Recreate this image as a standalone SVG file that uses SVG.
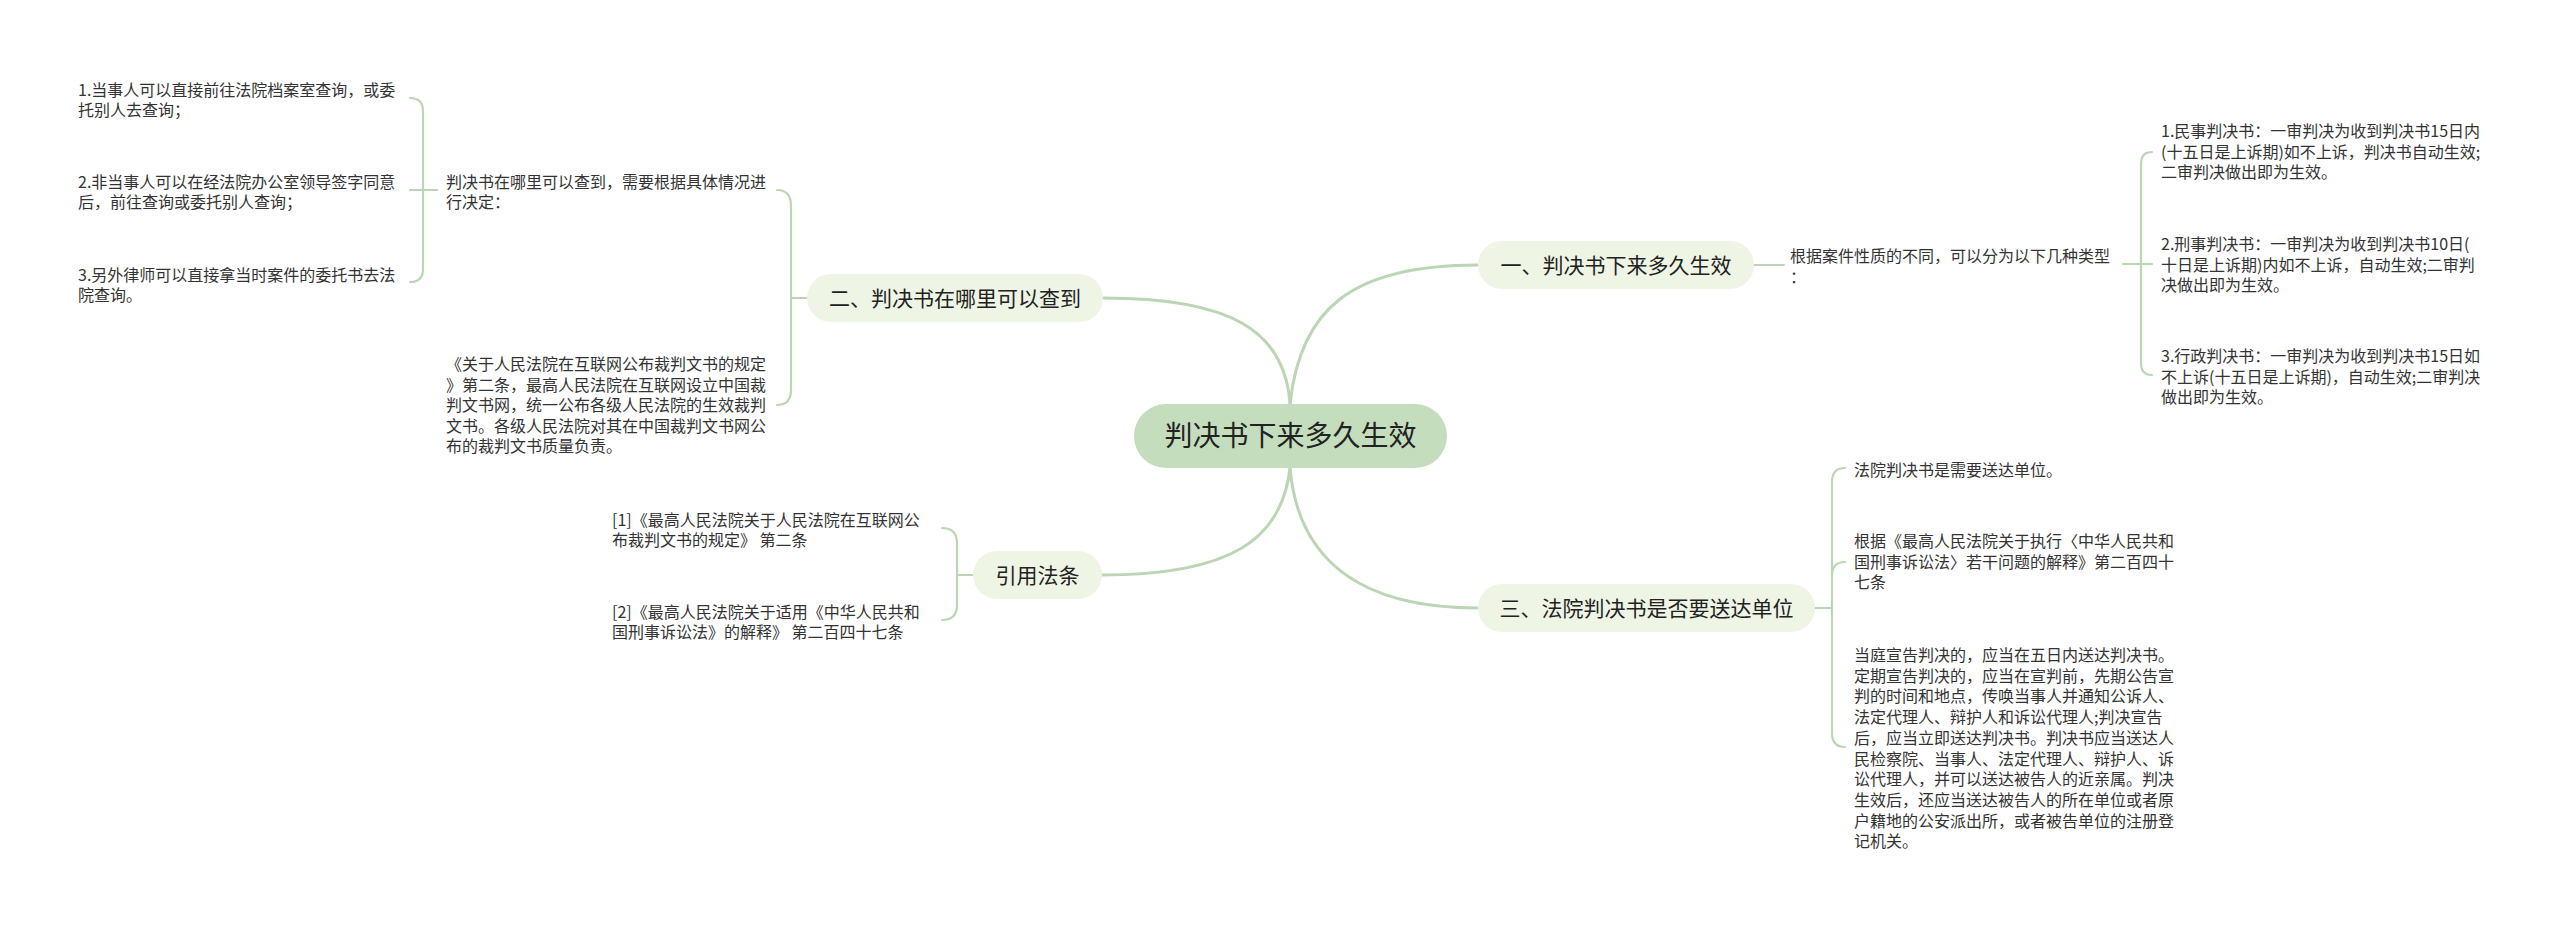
<svg xmlns="http://www.w3.org/2000/svg" width="2560" height="928" viewBox="0 0 2560 928">
<style>
.bg{fill:#ffffff}
.main{fill:none;stroke:#bcd6b5;stroke-width:3;stroke-linecap:round}
.sub{fill:none;stroke:#bcd6b5;stroke-width:2.2;stroke-linecap:round}
.root rect{fill:#c4ddbd}
.branch rect{fill:#eef5e5}
.root text{font-family:"Noto Sans CJK SC","Microsoft YaHei",sans-serif;font-size:28px;fill:#222;text-anchor:middle}
.branch text{font-family:"Noto Sans CJK SC","Microsoft YaHei",sans-serif;font-size:21px;fill:#222;text-anchor:middle}
.leaf text{font-family:"Noto Sans CJK SC","Microsoft YaHei",sans-serif;font-size:16px;fill:#333}
</style>
<rect class="bg" x="0" y="0" width="2560" height="928"/>
<g id="connectors">
<path class="main" d="M1290,404 C1285,330 1230,298 1103,298"/>
<path class="main" d="M1290,404 C1300,310 1350,265 1478,265"/>
<path class="main" d="M1290,468 C1282,540 1230,575 1102,575"/>
<path class="main" d="M1290,468 C1298,560 1360,608 1478,608"/>
<path class="sub" d="M807,298 L791,298 M777,190 Q791,190 791,206 L791,390 Q791,405 777,405"/>
<path class="sub" d="M437,190 L410,190 M410,98 Q423,98 423,111 L423,269 Q423,282 410,282"/>
<path class="sub" d="M973,575 L957,575 M942,528 Q957,528 957,543 L957,605 Q957,620 942,620"/>
<path class="sub" d="M1754,265 L1784,265"/>
<path class="sub" d="M2123,264 L2152,264 M2152,152 Q2141,152 2141,164 L2141,363 Q2141,375 2152,375"/>
<path class="sub" d="M1815,608 L1832,608 M1845,468 Q1832,468 1832,482 L1832,733 Q1832,747 1845,747 M1832,576 Q1832,562 1845,562"/>
</g>
<g id="root" class="root">
<rect x="1134" y="404" width="313" height="64" rx="32"/>
<text x="1290.5" y="446">判决书下来多久生效</text>
</g>
<g id="node-1" class="branch">
<rect x="1478" y="241" width="276" height="48" rx="24"/>
<text x="1616" y="272.5">一、判决书下来多久生效</text>
</g>
<g id="node-2" class="branch">
<rect x="807" y="274" width="296" height="48" rx="24"/>
<text x="955" y="305.5">二、判决书在哪里可以查到</text>
</g>
<g id="node-3" class="branch">
<rect x="1478" y="584" width="337" height="48" rx="24"/>
<text x="1646.5" y="615.5">三、法院判决书是否要送达单位</text>
</g>
<g id="node-cite" class="branch">
<rect x="973" y="551" width="129" height="48" rx="24"/>
<text x="1037.5" y="582.5">引用法条</text>
</g>
<g id="leaf-2-parent" class="leaf">
<text x="446" y="187.5">判决书在哪里可以查到，需要根据具体情况进<tspan x="446" dy="20.5">行决定：</tspan></text>
</g>
<g id="leaf-2-1" class="leaf">
<text x="78" y="95.5">1.当事人可以直接前往法院档案室查询，或委<tspan x="78" dy="20.5">托别人去查询；</tspan></text>
</g>
<g id="leaf-2-2" class="leaf">
<text x="78" y="187.5">2.非当事人可以在经法院办公室领导签字同意<tspan x="78" dy="20.5">后，前往查询或委托别人查询；</tspan></text>
</g>
<g id="leaf-2-3" class="leaf">
<text x="78" y="280.5">3.另外律师可以直接拿当时案件的委托书去法<tspan x="78" dy="20.5">院查询。</tspan></text>
</g>
<g id="leaf-2-4" class="leaf">
<text x="446" y="370">《关于人民法院在互联网公布裁判文书的规定<tspan x="446" dy="20.5">》第二条，最高人民法院在互联网设立中国裁</tspan><tspan x="446" dy="20.5">判文书网，统一公布各级人民法院的生效裁判</tspan><tspan x="446" dy="20.5">文书。各级人民法院对其在中国裁判文书网公</tspan><tspan x="446" dy="20.5">布的裁判文书质量负责。</tspan></text>
</g>
<g id="leaf-cite-1" class="leaf">
<text x="612" y="525.5">[1]《最高人民法院关于人民法院在互联网公<tspan x="612" dy="20.5">布裁判文书的规定》 第二条</tspan></text>
</g>
<g id="leaf-cite-2" class="leaf">
<text x="612" y="617.5">[2]《最高人民法院关于适用《中华人民共和<tspan x="612" dy="20.5">国刑事诉讼法》的解释》 第二百四十七条</tspan></text>
</g>
<g id="leaf-1-parent" class="leaf">
<text x="1790" y="262">根据案件性质的不同，可以分为以下几种类型<tspan x="1790" dy="20.5">：</tspan></text>
</g>
<g id="leaf-1-1" class="leaf">
<text x="2161" y="137">1.民事判决书：一审判决为收到判决书15日内<tspan x="2161" dy="20.5">(十五日是上诉期)如不上诉，判决书自动生效;</tspan><tspan x="2161" dy="20.5">二审判决做出即为生效。</tspan></text>
</g>
<g id="leaf-1-2" class="leaf">
<text x="2161" y="250">2.刑事判决书：一审判决为收到判决书10日(<tspan x="2161" dy="20.5">十日是上诉期)内如不上诉，自动生效;二审判</tspan><tspan x="2161" dy="20.5">决做出即为生效。</tspan></text>
</g>
<g id="leaf-1-3" class="leaf">
<text x="2161" y="362">3.行政判决书：一审判决为收到判决书15日如<tspan x="2161" dy="20.5">不上诉(十五日是上诉期)，自动生效;二审判决</tspan><tspan x="2161" dy="20.5">做出即为生效。</tspan></text>
</g>
<g id="leaf-3-1" class="leaf">
<text x="1854" y="476">法院判决书是需要送达单位。</text>
</g>
<g id="leaf-3-2" class="leaf">
<text x="1854" y="547">根据《最高人民法院关于执行〈中华人民共和<tspan x="1854" dy="20.5">国刑事诉讼法〉若干问题的解释》第二百四十</tspan><tspan x="1854" dy="20.5">七条</tspan></text>
</g>
<g id="leaf-3-3" class="leaf">
<text x="1854" y="661">当庭宣告判决的，应当在五日内送达判决书。<tspan x="1854" dy="20.7">定期宣告判决的，应当在宣判前，先期公告宣</tspan><tspan x="1854" dy="20.7">判的时间和地点，传唤当事人并通知公诉人、</tspan><tspan x="1854" dy="20.7">法定代理人、辩护人和诉讼代理人;判决宣告</tspan><tspan x="1854" dy="20.7">后，应当立即送达判决书。判决书应当送达人</tspan><tspan x="1854" dy="20.7">民检察院、当事人、法定代理人、辩护人、诉</tspan><tspan x="1854" dy="20.7">讼代理人，并可以送达被告人的近亲属。判决</tspan><tspan x="1854" dy="20.7">生效后，还应当送达被告人的所在单位或者原</tspan><tspan x="1854" dy="20.7">户籍地的公安派出所，或者被告单位的注册登</tspan><tspan x="1854" dy="20.7">记机关。</tspan></text>
</g>
</svg>
